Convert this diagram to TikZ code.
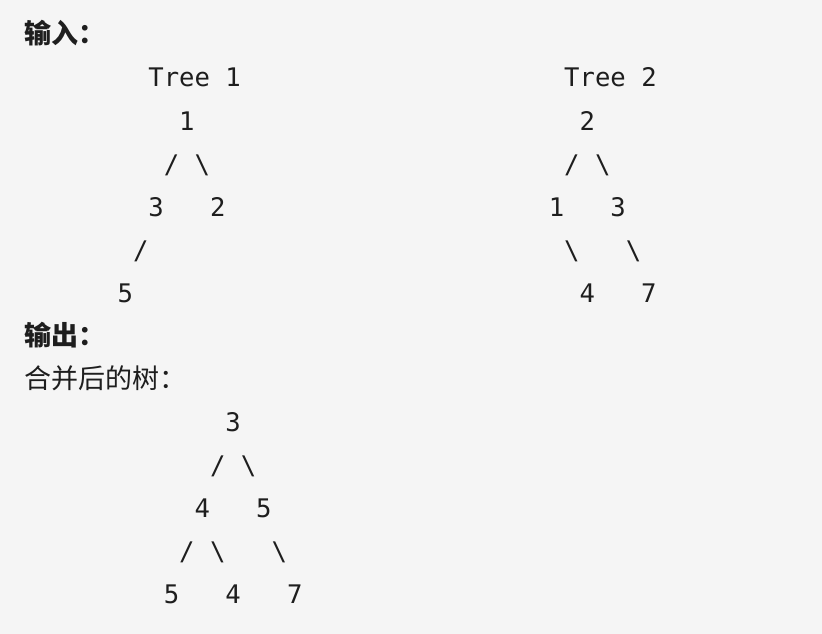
\documentclass[tikz,border=0pt]{standalone}
\usepackage{fontspec}
\setmonofont{DejaVu Sans Mono}
\newfontfamily\cjk{Noto Sans CJK SC}
\definecolor{bg}{HTML}{F5F5F5}
\definecolor{ink}{HTML}{1E1E1E}
\tikzset{
  mono/.style={font=\ttfamily\fontsize{25.6}{30}\selectfont, anchor=base west, inner sep=0pt, text=ink},
  cjktext/.style={font=\cjk\fontsize{27}{30}\selectfont, anchor=base west, inner sep=0pt, text=ink},
  cjkbold/.style={font=\cjk\bfseries\fontsize{27}{30}\selectfont, anchor=base west, inner sep=0pt, text=ink}
}
\newcommand{\cx}[1]{{25+15.4*#1}}
\begin{document}
\begin{tikzpicture}[x=1pt,y=-1pt]
\fill[bg] (0,0) rectangle (822,634);
\useasboundingbox (0,0) rectangle (822,634);
% headings
\node[cjkbold] (in) at (24,44) {输入：};
\node[cjkbold] (out) at (24,345) {输出：};
\node[cjktext] (merged) at (24,388) {合并后的树：};
% Tree 1
\node[mono] (t1title) at (\cx{8},87) {Tree 1};
\node[mono] (a1) at (\cx{10},130) {1};
\node[mono] (a1l) at (\cx{9},173) {/};
\node[mono] (a1r) at (\cx{11},173) {\textbackslash};
\node[mono] (a3) at (\cx{8},216) {3};
\node[mono] (a2) at (\cx{12},216) {2};
\node[mono] (a3l) at (\cx{7},259) {/};
\node[mono] (a5) at (\cx{6},302) {5};
% Tree 2
\node[mono] (t2title) at (\cx{35},87) {Tree 2};
\node[mono] (b2) at (\cx{36},130) {2};
\node[mono] (b2l) at (\cx{35},173) {/};
\node[mono] (b2r) at (\cx{37},173) {\textbackslash};
\node[mono] (b1) at (\cx{34},216) {1};
\node[mono] (b3) at (\cx{38},216) {3};
\node[mono] (b1r) at (\cx{35},259) {\textbackslash};
\node[mono] (b3r) at (\cx{39},259) {\textbackslash};
\node[mono] (b4) at (\cx{36},302) {4};
\node[mono] (b7) at (\cx{40},302) {7};
% Merged tree
\node[mono] (c3) at (\cx{13},431) {3};
\node[mono] (c3l) at (\cx{12},474) {/};
\node[mono] (c3r) at (\cx{14},474) {\textbackslash};
\node[mono] (c4) at (\cx{11},517) {4};
\node[mono] (c5) at (\cx{15},517) {5};
\node[mono] (c4l) at (\cx{10},560) {/};
\node[mono] (c4r) at (\cx{12},560) {\textbackslash};
\node[mono] (c5r) at (\cx{16},560) {\textbackslash};
\node[mono] (d5) at (\cx{9},603) {5};
\node[mono] (d4) at (\cx{13},603) {4};
\node[mono] (d7) at (\cx{17},603) {7};
\end{tikzpicture}
\end{document}
